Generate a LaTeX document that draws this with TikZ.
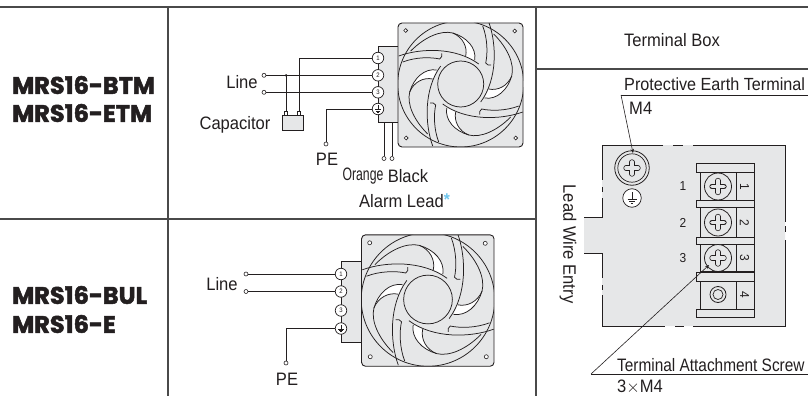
\documentclass[tikz,border=0pt]{standalone}
\usepackage{fontspec}
\usepackage{amsmath}
\usepackage{tikz}
\usetikzlibrary{arrows.meta}
\setmainfont[FakeStretch=0.92]{Liberation Sans}
\newfontfamily\narrowfont[FakeStretch=0.68]{Liberation Sans}
\newfontfamily\screwfont[FakeStretch=0.855]{Liberation Sans}
\newfontfamily\modelfont[BoldFeatures={FakeBold=2}]{Poppins}
\definecolor{ink}{HTML}{231F20}
\definecolor{panelgray}{HTML}{E6E7E8}
\definecolor{rulegray}{HTML}{4A4A4A}
\definecolor{starblue}{HTML}{6EC6EE}
\tikzset{
  wire/.style={draw=ink,line width=0.8pt},
  rulework/.style={draw=rulegray,line width=1.1pt},
  lbl/.style={inner sep=0pt,text=ink,font=\fontsize{18}{20}\selectfont},
  model/.style={inner sep=0pt,anchor=west,text=ink,font=\fontsize{24}{26}\modelfont\bfseries},
  wireend/.style={circle,draw=ink,fill=white,line width=0.6pt,inner sep=0pt,minimum size=4pt},
  termnode/.style={circle,draw=ink,fill=white,line width=0.7pt,inner sep=0pt,minimum size=11.5pt,text=ink,font=\fontsize{6.5}{7}\selectfont},
  sidenum/.style={inner sep=0pt,text=ink,font=\fontsize{13}{14}\selectfont},
  fanline/.style={draw=ink,line width=0.75pt},
}
% fan seen from the front: centre x, centre y, scale
\newcommand{\drawfan}[3]{
  \begin{scope}[shift={(#1,#2)},scale=#3]
    \begin{scope}
      \path[clip,rounded corners=4pt] (-62.7,-61) rectangle (62.3,63);
      \fill[panelgray] (-63,-62) rectangle (63,64);
      \foreach \rotfan in {0,90,180,270} {
        \begin{scope}[rotate=\rotfan]
          \fill[white] (-8,-51) .. controls (2,-47) and (7,-37) .. (5,-28) -- (14,-24) .. controls (16,-36) and (6,-47) .. (-8,-51);
          \draw[fanline] (-50,-33) .. controls (-36,-47) and (-20,-54) .. (-8,-51) .. controls (2,-47) and (7,-37) .. (5,-28);
          \draw[fanline] (-8,-51) .. controls (6,-47) and (16,-36) .. (14,-24);
          \draw[fanline] (-62,-28) .. controls (-40,-36) and (-5,-37) .. (18,-20);
          \draw[fanline] (-19,-30.5) -- (-19,-27.5) -- (-21,-25) .. controls (-30,-27) and (-45,-27) .. (-58,-22);
        \end{scope}
      }
      \draw[fanline] (0,0) circle (63);
      \draw[fanline,fill=panelgray] (0,0) circle (23);
    \end{scope}
    \draw[draw=ink,line width=0.9pt,rounded corners=4pt] (-62.7,-61) rectangle (62.3,63);
    \foreach \xhole/\yhole in {-55/-53.5,54/-53,-54.5/54,55/54} {
      \draw[ink,line width=0.6pt,fill=white] (\xhole,\yhole) circle (1.9);
    }
  \end{scope}
}
% plus sign cut in a screw head
\newcommand{\plusmark}[3]{
  \draw[ink,line width=5.2pt,line cap=round] (#1-#3,#2) -- (#1+#3,#2) (#1,#2-#3) -- (#1,#2+#3);
  \draw[panelgray,line width=3.7pt,line cap=round] (#1-#3,#2) -- (#1+#3,#2) (#1,#2-#3) -- (#1,#2+#3);
}
% earth sign: centre x, centre y, size
\newcommand{\earthmark}[3]{
  \draw[ink,line width=0.6pt] (#1,#2-#3) -- (#1,#2+0.2*#3) (#1-0.75*#3,#2+0.2*#3) -- (#1+0.75*#3,#2+0.2*#3)
    (#1-0.45*#3,#2+0.55*#3) -- (#1+0.45*#3,#2+0.55*#3) (#1-0.2*#3,#2+0.9*#3) -- (#1+0.2*#3,#2+0.9*#3);
}
\begin{document}
\begin{tikzpicture}[x=1pt,y=-1pt]
  \path[use as bounding box,fill=white] (0,0) rectangle (808,396);

  % table rules
  \draw[rulework] (0,7) -- (808,7);
  \draw[rulework] (0,219) -- (536,219);
  \draw[rulework] (536,69) -- (808,69);
  \draw[rulework] (168,7) -- (168,396);
  \draw[rulework] (536,7) -- (536,396);

  % model names
  \node[model] (modelbtm) at (12,85) {MRS16-BTM};
  \node[model] (modeletm) at (12,113) {MRS16-ETM};
  \node[model] (modelbul) at (12,295) {MRS16-BUL};
  \node[model] (modele) at (12,324) {MRS16-E};

  % upper wiring
  \fill[panelgray] (378,46) rectangle (399,122.5);
  \draw[wire] (399,46) -- (378,46) -- (378,122.5) -- (399,122.5);
  \drawfan{460.7}{84}{1}
  \foreach \ytm/\ntm in {58/1,75.3/2,92.3/3} {
    \node[termnode] (upper\ntm) at (378,\ytm) {\ntm};
  }
  \node[termnode] (upper4) at (378,109) {};
  \earthmark{378}{109}{3.6}
  \node[wireend] (lineup) at (264,75.3) {};
  \node[wireend] (linedown) at (264,92.3) {};
  \node[wireend] (peup) at (326,144) {};
  \node[wireend] (orangeend) at (384,158.5) {};
  \node[wireend] (blackend) at (392,158.5) {};
  \node[draw=ink,fill=panelgray,line width=0.8pt,minimum width=21pt,minimum height=15pt,inner sep=0pt] (capbox) at (292.5,122.5) {};
  \coordinate (capleft) at (286,111);
  \coordinate (capright) at (299,111);
  \coordinate (capdot) at (286,75.3);
  \coordinate (orangetop) at (384,122.5);
  \coordinate (blacktop) at (392,122.5);
  \draw[wire] (lineup) -- (upper2);
  \draw[wire] (linedown) -- (upper3);
  \draw[wire] (upper1) -| (capright);
  \draw[wire] (capdot) -- (capleft);
  \fill[ink] (capdot) circle (1.3);
  \draw[wire,fill=white] (284.7,111) rectangle (287.3,115);
  \draw[wire,fill=white] (297.7,111) rectangle (300.3,115);
  \draw[wire] (upper4) -| (peup);
  \draw[wire] (orangetop) -- (orangeend);
  \draw[wire] (blacktop) -- (blackend);

  \node[lbl] (lineuplabel) at (242,82) {Line};
  \node[lbl] (capacitorlabel) at (235,125) {Capacitor};
  \node[lbl] (pelabelup) at (327,159) {PE};
  \node[lbl,font=\fontsize{18}{20}\narrowfont] (orangelabel) at (363,176) {Orange};
  \node[lbl] (blacklabel) at (408,176) {Black};
  \node[lbl] (alarmlabel) at (401.5,201) {Alarm Lead};
  \node[inner sep=0pt,text=starblue,font=\fontsize{17}{18}\selectfont\bfseries] (alarmstar) at (447,200) {*};

  % lower wiring
  \fill[panelgray] (341,261) rectangle (364,342);
  \draw[wire] (364,261) -- (341,261) -- (341,342) -- (364,342);
  \drawfan{428}{299.5}{1.06}
  \foreach \ybm/\nbm in {274/1,291.5/2,310.5/3} {
    \node[termnode] (lower\nbm) at (341,\ybm) {\nbm};
  }
  \node[termnode] (lower4) at (341,328.5) {};
  \earthmark{341}{328.5}{3.6}
  \draw[wire] (lower2) -- (lower3) -- (lower4);
  \node[wireend] (linea) at (246,274) {};
  \node[wireend] (lineb) at (246,291.5) {};
  \node[wireend] (pedown) at (286,363) {};
  \draw[wire] (linea) -- (lower1);
  \draw[wire] (lineb) -- (lower2);
  \draw[wire] (lower4) -| (pedown);
  \node[lbl] (linedownlabel) at (222,284) {Line};
  \node[lbl] (pelabeldown) at (287,379) {PE};

  % terminal box panel
  \fill[panelgray] (602,145) -- (785,145) -- (785,326) -- (602,326) -- (602,253) -- (584,253) -- (584,217) -- (602,217) -- cycle;
  \draw[wire] (663,145) -- (602,145) -- (602,180) (602,187) -- (602,192) (602,198) -- (602,217) -- (584,217);
  \draw[wire] (584,253) -- (602,253) -- (602,278) (602,285) -- (602,290) (602,295) -- (602,326) -- (665,326);
  \draw[wire] (673,145) -- (683,145) (693,145) -- (785,145) -- (785,222) (785,226) -- (785,232) (785,240) -- (785,326) -- (693,326) (675,326) -- (684,326);

  % earth screw
  \node[circle,draw=ink,fill=panelgray,line width=0.8pt,inner sep=0pt,minimum size=34.5pt] (earthscrew) at (632,168) {};
  \draw[ink,line width=0.7pt] (earthscrew.center) circle (14.2);
  \plusmark{632}{168}{6}
  \node[circle,draw=ink,fill=white,line width=0.7pt,inner sep=0pt,minimum size=18.5pt] (earthsign) at (632,198) {};
  \earthmark{632}{198}{6}

  % terminal block
  \foreach \ybar/\hbar in {163/172,200/207,237/244,272/281,309/317} {
    \draw[wire,fill=panelgray] (696,\ybar) rectangle (754,\hbar);
  }
  \foreach \ytop/\ybot/\ymid/\nblk in {172/200/186.5/1,207/237/222.5/2,244/272/258/3,281/309/294.5/4} {
    \draw[wire,fill=panelgray] (700,\ytop) rectangle (754,\ybot);
    \draw[wire] (736,\ytop) -- (736,\ybot);
    \node[sidenum,rotate=-90] (tag\nblk) at (744.5,\ymid) {\nblk};
  }
  \foreach \ymid/\nblk in {186.5/1,222.5/2,258/3} {
    \node[circle,draw=ink,fill=panelgray,line width=0.8pt,inner sep=0pt,minimum size=27pt] (screw\nblk) at (718,\ymid) {};
    \plusmark{718}{\ymid}{6}
    \node[sidenum] (num\nblk) at (683,\ymid) {\nblk};
  }
  \node[circle,draw=ink,fill=panelgray,line width=0.8pt,inner sep=0pt,minimum size=16pt] (screw4) at (718,294.5) {};
  \draw[ink,line width=0.7pt] (screw4.center) circle (5);
  \draw[wire,line width=1.5pt] (700,272) -- (754,272);

  % leaders and texts of the panel
  \node[lbl,anchor=west,font=\fontsize{17.6}{20}\selectfont] (earthtext) at (624,84) {Protective Earth Terminal};
  \node[lbl,anchor=west] (earthsize) at (629,108) {M4};
  \coordinate (earthknee) at (621,95);
  \coordinate (earthend) at (808,95);
  \coordinate (earthtip) at (633,153);
  \draw[wire] (earthend) -- (earthknee);
  \draw[wire,line width=0.6pt,-{Stealth[length=4pt,width=3.5pt]}] (earthknee) -- (earthtip);
  \node[lbl,anchor=west,font=\fontsize{18}{20}\screwfont] (screwtext) at (617,365) {Terminal Attachment Screw};
  \node[lbl,anchor=west] (screwsize) at (617,387) {3$\times$M4};
  \coordinate (screwknee) at (591,374);
  \coordinate (screwend) at (808,374);
  \coordinate (screwtip) at (709,265);
  \draw[wire] (screwend) -- (screwknee);
  \draw[wire,line width=0.6pt,-{Stealth[length=4pt,width=3.5pt]}] (screwknee) -- (screwtip);
  \node[lbl,rotate=-90] (entrytext) at (568,244) {Lead Wire Entry};
  \node[lbl] (boxtext) at (672,40) {Terminal Box};
\end{tikzpicture}
\end{document}
